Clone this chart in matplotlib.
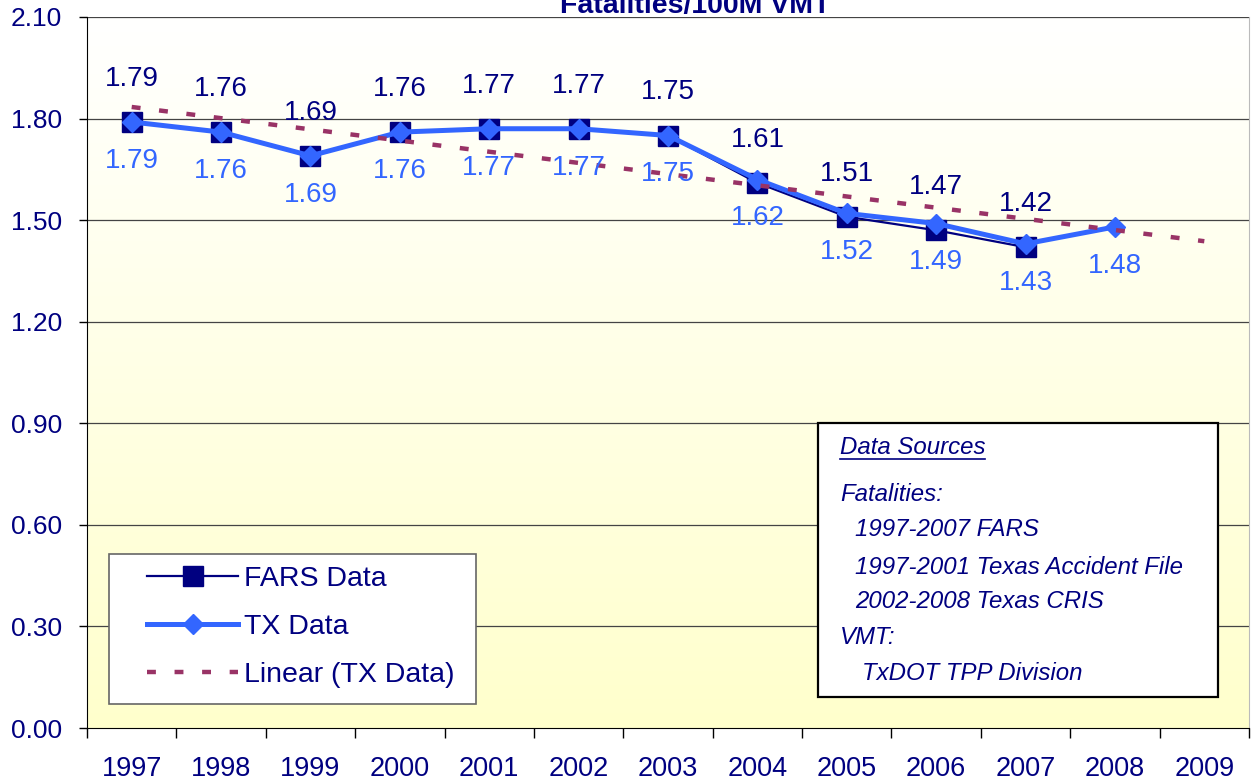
import matplotlib.pyplot as plt
import numpy as np
from matplotlib.patches import Rectangle
from matplotlib.lines import Line2D

plt.rcParams['font.family'] = ['Liberation Sans', 'DejaVu Sans']

years = ['1997', '1998', '1999', '2000', '2001', '2002', '2003',
         '2004', '2005', '2006', '2007', '2008', '2009']
fars = [1.79, 1.76, 1.69, 1.76, 1.77, 1.77, 1.75, 1.61, 1.51, 1.47, 1.42]
tx = [1.79, 1.76, 1.69, 1.76, 1.77, 1.77, 1.75, 1.62, 1.52, 1.49, 1.43, 1.48]
yticks = [0.0, 0.3, 0.6, 0.9, 1.2, 1.5, 1.8, 2.1]

NAVY = '#000080'
BLUE = '#3366FF'
MAROON = '#993366'

W, H = 1251, 782
fig = plt.figure(figsize=(W / 100, H / 100), dpi=100)
ax = fig.add_axes([87 / W, 1 - 728 / H, (1249 - 87) / W, (728 - 17) / H])

n = len(years)
ax.set_xlim(-0.5, n - 0.5)

# background gradient: white at the top, pale yellow at the bottom
grad = np.linspace(0, 1, 256).reshape(-1, 1, 1)
top = np.array([1.0, 1.0, 1.0])
bot = np.array([1.0, 1.0, 0.80])
img = top + (bot - top) * grad
ax.imshow(img, extent=[-0.5, n - 0.5, 0, 2.1], origin='upper', aspect='auto', zorder=0)
ax.set_ylim(0, 2.1)

for y in yticks[1:]:
    ax.axhline(y, color='#444444', lw=0.9, zorder=1)

xf = np.arange(len(fars))
xt = np.arange(len(tx))
ax.plot(xf, fars, color=NAVY, lw=1.6, marker='s', ms=14, mfc=NAVY, mec=NAVY, zorder=3)
ax.plot(xt, tx, color=BLUE, lw=3.6, marker='D', ms=10, mfc=BLUE, mec=BLUE, zorder=4)

coef = np.polyfit(xt, tx, 1)
xtr = np.arange(n)
ax.plot(xtr, np.polyval(coef, xtr), color=MAROON, lw=3.2, dashes=(2.0, 4.2),
        dash_capstyle='butt', zorder=5)

for i, v in enumerate(fars):
    ax.annotate(f'{v:.2f}', (i, v), xytext=(0, 31), textcoords='offset points',
                ha='center', va='center', fontsize=20, color=NAVY, zorder=6)
for i, v in enumerate(tx):
    ax.annotate(f'{v:.2f}', (i, v), xytext=(0, -28), textcoords='offset points',
                ha='center', va='center', fontsize=20, color=BLUE, zorder=6)

ax.set_yticks(yticks)
ax.set_yticklabels([f'{y:.2f}' for y in yticks], fontsize=19)
ax.tick_params(axis='y', length=6, width=1, pad=12, colors='#000000', labelcolor=NAVY)

ax.set_xticks(np.arange(-0.5, n, 1.0))
ax.set_xticklabels([])
ax.set_xticks(np.arange(n), minor=True)
ax.set_xticklabels(years, minor=True, fontsize=19.5)
ax.tick_params(axis='x', which='major', length=7, width=1, direction='out')
ax.tick_params(axis='x', which='minor', length=0, pad=20, labelcolor=NAVY)

ax.spines['top'].set_visible(False)
ax.spines['right'].set_color('#bbbbbb')
ax.spines['left'].set_color('#000000')
ax.spines['bottom'].set_color('#000000')

fig.text(695 / W, 1 - 13 / H, 'Fatalities/100M VMT', ha='center', va='baseline',
         fontsize=20.5, fontweight='bold', color=NAVY)

# legend: frame drawn separately so the inner padding can match
fig.add_artist(Rectangle((109 / W, 1 - 704 / H), (476 - 109) / W, (704 - 554) / H,
                         transform=fig.transFigure, facecolor='white',
                         edgecolor='#666666', lw=1.2, zorder=9))
handles = [
    Line2D([], [], color=NAVY, lw=1.6, marker='s', ms=14, mfc=NAVY, mec=NAVY),
    Line2D([], [], color=BLUE, lw=3.6, marker='D', ms=10, mfc=BLUE, mec=BLUE),
    Line2D([], [], color=MAROON, lw=3.2, dashes=(2.0, 4.2), dash_capstyle='butt'),
]
leg = fig.legend(handles, ['FARS Data', 'TX Data', 'Linear (TX Data)'],
                 loc='upper left', bbox_to_anchor=(147 / W, 1 - 566 / H),
                 bbox_transform=fig.transFigure, borderaxespad=0, borderpad=0,
                 fontsize=20.5, labelcolor=NAVY, handlelength=3.2, handletextpad=0.2,
                 labelspacing=0.78, frameon=False)
leg.set_zorder(10)

# data sources box
x0, y0, x1, y1 = 818, 423, 1218, 697
fig.add_artist(Rectangle((x0 / W, 1 - y1 / H), (x1 - x0) / W, (y1 - y0) / H,
                         transform=fig.transFigure, facecolor='white',
                         edgecolor='black', lw=1.6, zorder=10))
lines = [
    (840, 448, 'Data Sources'),
    (840, 495, 'Fatalities:'),
    (855, 530, '1997-2007 FARS'),
    (855, 567, '1997-2001 Texas Accident File'),
    (855, 602, '2002-2008 Texas CRIS'),
    (840, 637, 'VMT:'),
    (862, 673, 'TxDOT TPP Division'),
]
for x, y, t in lines:
    fig.text(x / W, 1 - y / H, t, ha='left', va='center', fontsize=17.3,
             fontstyle='italic', color=NAVY, zorder=11)
fig.add_artist(Line2D([840 / W, 985 / W], [1 - 459 / H, 1 - 459 / H],
                      transform=fig.transFigure, color=NAVY, lw=1.2, zorder=11))

fig.savefig('out.png', dpi=100)
